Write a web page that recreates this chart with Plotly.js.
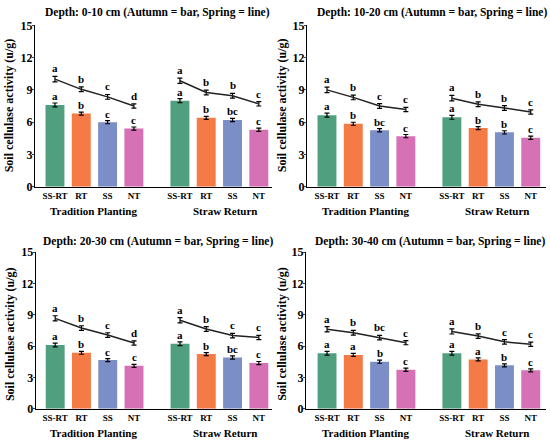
<!DOCTYPE html>
<html>
<head>
<meta charset="utf-8">
<script src="https://cdn.plot.ly/plotly-3.0.1.min.js"></script>
<style>html,body{margin:0;padding:0;background:#fff;}#chart{width:550px;height:444px;}</style>
</head>
<body>
<div id="chart"></div>
<script>
// ---------- data ----------
const treatments = ["SS-RT", "RT", "SS", "NT"];
const systems = ["Tradition Planting", "Straw Return"];
const depths = ["0-10 cm", "10-20 cm", "20-30 cm", "30-40 cm"];
const yTicks = [0, 3, 6, 9, 12, 15];

// Autumn (bars) — [Tradition Planting], [Straw Return]
const autumnTP_0_10  = [7.6, 6.8, 6.0, 5.4];
const autumnSR_0_10  = [8.0, 6.4, 6.2, 5.3];
const autumnTP_10_20 = [6.65, 5.85, 5.25, 4.7];
const autumnSR_10_20 = [6.45, 5.45, 5.05, 4.55];
const autumnTP_20_30 = [6.1, 5.35, 4.65, 4.1];
const autumnSR_20_30 = [6.22, 5.23, 4.9, 4.37];
const autumnTP_30_40 = [5.3, 5.15, 4.5, 3.73];
const autumnSR_30_40 = [5.3, 4.72, 4.15, 3.67];

// Spring (lines)
const springTP_0_10  = [10.0, 9.05, 8.35, 7.5];
const springSR_0_10  = [9.85, 8.75, 8.45, 7.7];
const springTP_10_20 = [9.0, 8.3, 7.5, 7.17];
const springSR_10_20 = [8.23, 7.67, 7.32, 6.94];
const springTP_20_30 = [8.65, 7.72, 7.05, 6.29];
const springSR_20_30 = [8.46, 7.63, 7.0, 6.82];
const springTP_30_40 = [7.6, 7.27, 6.8, 6.32];
const springSR_30_40 = [7.4, 6.95, 6.4, 6.17];

// error (SE)
const autumnErr = [0.18, 0.14, 0.15, 0.15];
const springErr = [0.25, 0.22, 0.22, 0.2];

// significance letters
const lettersAutumnTP = [["a","b","c","c"], ["a","b","bc","c"], ["a","b","c","c"], ["a","a","b","c"]];
const lettersAutumnSR = [["a","b","bc","c"], ["a","b","b","c"], ["a","b","bc","c"], ["a","a","b","c"]];
const lettersSpringTP = [["a","b","c","d"], ["a","b","c","c"], ["a","b","c","d"], ["a","b","bc","c"]];
const lettersSpringSR = [["a","b","b","c"], ["a","b","b","c"], ["a","b","c","c"], ["a","b","c","c"]];

// ---------- build ----------
const autumnTP = [autumnTP_0_10, autumnTP_10_20, autumnTP_20_30, autumnTP_30_40];
const autumnSR = [autumnSR_0_10, autumnSR_10_20, autumnSR_20_30, autumnSR_30_40];
const springTP = [springTP_0_10, springTP_10_20, springTP_20_30, springTP_30_40];
const springSR = [springSR_0_10, springSR_10_20, springSR_20_30, springSR_30_40];

const colors = ["#50a07f", "#f47a46", "#7b8ec6", "#d571b4"];
const FONT = "Liberation Serif, Times New Roman, serif";
const groupOffset = 4.75;
const posOf = (g, i) => g * groupOffset + i;

const traces = [];
const annotations = [];
const layout = {
  width: 550, height: 444,
  margin: {l: 0, r: 0, t: 0, b: 0},
  paper_bgcolor: "#fff", plot_bgcolor: "#fff",
  showlegend: false,
  font: {family: FONT, color: "#000"},
  annotations: annotations
};

// panel geometry (paper fractions)
const panels = [
  {xd: [0.0636, 0.4945], yd: [0.5795, 0.943], xr: [-0.76, 8.25], tx: 0.2864, ty: 0.9714, gy: 0.5255, ytx: 0.017, yty: 0.7635},
  {xd: [0.5582, 0.9927], yd: [0.5795, 0.943], xr: [-0.76, 8.33], tx: 0.7855, ty: 0.9714, gy: 0.5255, ytx: 0.513, yty: 0.7635},
  {xd: [0.0650, 0.4945], yd: [0.0795, 0.4324], xr: [-0.74, 8.25], tx: 0.2864, ty: 0.455, gy: 0.0255, ytx: 0.017, yty: 0.2484},
  {xd: [0.5564, 0.9927], yd: [0.0795, 0.4324], xr: [-0.80, 8.33], tx: 0.7827, ty: 0.455, gy: 0.0255, ytx: 0.513, yty: 0.2484}
];

panels.forEach((p, k) => {
  const n = k + 1;
  const xa = n === 1 ? "x" : "x" + n;
  const ya = n === 1 ? "y" : "y" + n;
  const xKey = n === 1 ? "xaxis" : "xaxis" + n;
  const yKey = n === 1 ? "yaxis" : "yaxis" + n;

  const tickvals = [], ticktext = [];
  [autumnTP[k], autumnSR[k]].forEach((vals, g) => {
    const xs = vals.map((v, i) => posOf(g, i));
    xs.forEach((x, i) => { tickvals.push(x); ticktext.push(treatments[i]); });
    traces.push({
      type: "bar", x: xs, y: vals, xaxis: xa, yaxis: ya, width: 0.72,
      marker: {color: colors, line: {width: 0}},
      error_y: {type: "data", array: autumnErr, color: "#000", thickness: 1.2, width: 2.5},
      hoverinfo: "skip", name: "Autumn " + systems[g]
    });
    const letters = g === 0 ? lettersAutumnTP[k] : lettersAutumnSR[k];
    vals.forEach((v, i) => annotations.push({
      xref: xa, yref: ya, x: xs[i], y: v + autumnErr[i], xanchor: "center", yanchor: "bottom", showarrow: false,
      text: letters[i], font: {family: FONT, size: 11, weight: "bold"}, yshift: -1
    }));
  });
  [springTP[k], springSR[k]].forEach((vals, g) => {
    const xs = vals.map((v, i) => posOf(g, i));
    traces.push({
      type: "scatter", mode: "lines", x: xs, y: vals, xaxis: xa, yaxis: ya,
      line: {color: "#222", width: 1.5},
      error_y: {type: "data", array: springErr, color: "#000", thickness: 1.2, width: 2.5},
      hoverinfo: "skip", name: "Spring " + systems[g]
    });
    const letters = g === 0 ? lettersSpringTP[k] : lettersSpringSR[k];
    vals.forEach((v, i) => annotations.push({
      xref: xa, yref: ya, x: xs[i], y: v + springErr[i], xanchor: "center", yanchor: "bottom", showarrow: false,
      text: letters[i], font: {family: FONT, size: 11, weight: "bold"}, yshift: 0
    }));
  });

  layout[xKey] = {
    domain: p.xd, anchor: ya, range: p.xr, tickvals: tickvals, ticktext: ticktext,
    showline: true, linecolor: "#000", linewidth: 1.2, ticks: "", showgrid: false, zeroline: false,
    tickfont: {family: FONT, size: 9, weight: "bold"}, fixedrange: true
  };
  layout[yKey] = {
    domain: p.yd, anchor: xa, range: [0, 15], tickvals: yTicks,
    showline: true, linecolor: "#000", linewidth: 1.2, ticks: "outside", ticklen: 2, tickwidth: 1,
    ticklabelstandoff: -3,
    showgrid: false, zeroline: false, tickfont: {family: FONT, size: 12, weight: "bold"}, fixedrange: true
  };

  // group labels
  [1.45, groupOffset + 1.7].forEach((gx, g) => annotations.push({
    xref: xa, yref: "paper", x: gx, y: p.gy, xanchor: "center", yanchor: "middle", showarrow: false,
    text: systems[g], font: {family: FONT, size: 11, weight: "bold"}
  }));
  // panel title
  annotations.push({
    xref: "paper", yref: "paper", x: p.tx, y: p.ty, xanchor: "center", yanchor: "middle", showarrow: false,
    text: "Depth: " + depths[k] + " (Autumn = bar, Spring = line)",
    font: {family: FONT, size: 11.5, weight: "bold"}
  });
  // y-axis title
  annotations.push({
    xref: "paper", yref: "paper", x: p.ytx, y: p.yty, xanchor: "center", yanchor: "middle", textangle: -90, showarrow: false,
    text: "Soil cellulase activity (u/g)", font: {family: FONT, size: 12, weight: "bold"}
  });
});

Plotly.newPlot("chart", traces, layout, {staticPlot: true, displayModeBar: false});
</script>
</body>
</html>
